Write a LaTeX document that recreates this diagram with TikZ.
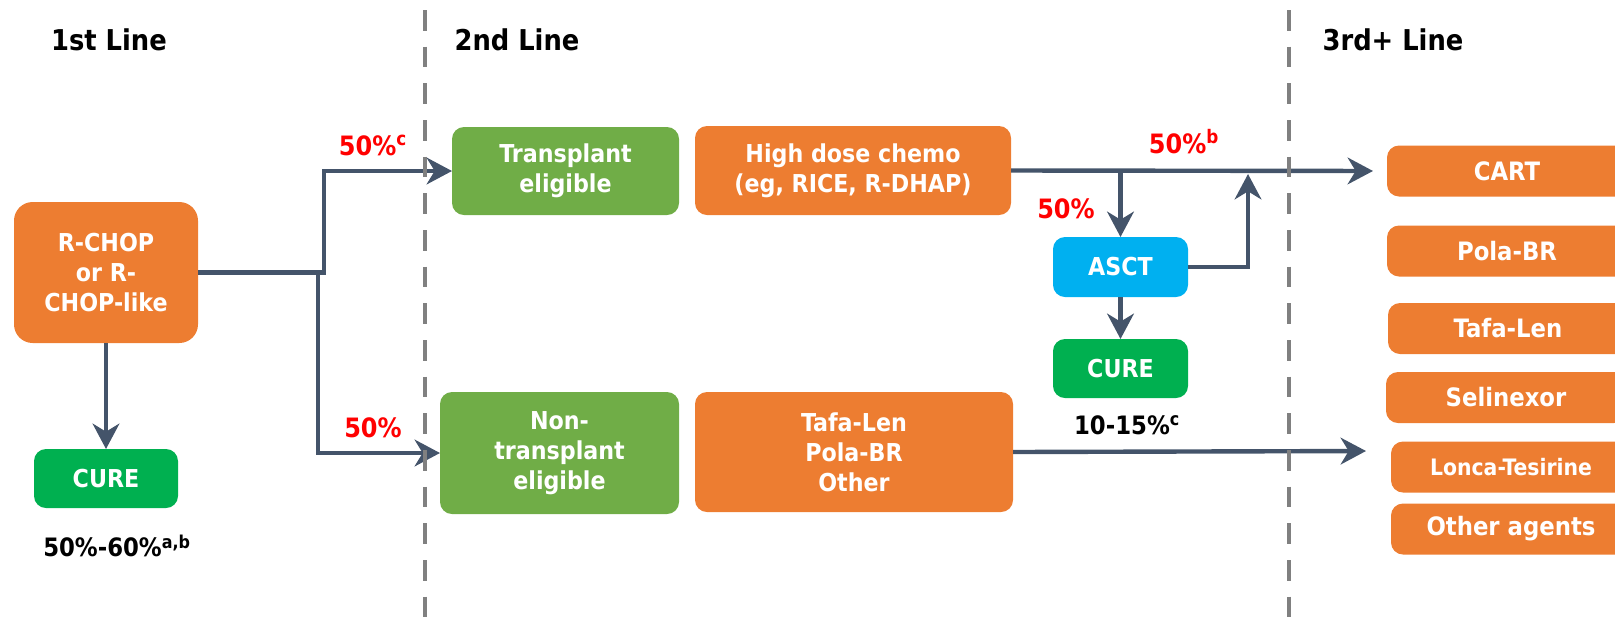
\documentclass[tikz,border=0pt]{standalone}
\usepackage{fontspec}
\setmainfont{DejaVu Sans Condensed}
\usetikzlibrary{arrows.meta}
\definecolor{orng}{HTML}{ED7D31}
\definecolor{lgreen}{HTML}{70AD47}
\definecolor{dgreen}{HTML}{00B050}
\definecolor{sky}{HTML}{00B0F0}
\definecolor{slate}{HTML}{44546A}
\definecolor{dashgray}{HTML}{808080}
\definecolor{redlbl}{HTML}{FF0000}
\begin{document}
\begin{tikzpicture}[x=0.75pt,y=-0.75pt,
  wh/.style 2 args={minimum width=#1*0.75pt, minimum height=#2*0.75pt},
  box/.style={rounded corners=9pt, text=white, align=center, inner sep=0pt, outer sep=0pt,
    font=\bfseries\fontsize{18.5}{22.5}\selectfont},
  sidebox/.style={box, fill=orng, wh={240}{51}, font=\bfseries\fontsize{19}{23}\selectfont},
  header/.style={font=\bfseries\fontsize{21.5}{25}\selectfont, text=black},
  redlab/.style={font=\bfseries\fontsize{20}{24}\selectfont, text=redlbl},
  blacklab/.style={font=\bfseries\fontsize{19}{23}\selectfont, text=black},
  conn/.style={draw=slate, line width=3.3pt, -{Stealth[length=19pt,width=20pt,inset=6pt]}},
  divider/.style={draw=dashgray, line width=3pt, dash pattern=on 15.5pt off 12pt}
]
\useasboundingbox (0,0) rectangle (1615,626);

% headers
\node[header] (h1) at (109,40) {1st Line};
\node[header] (h2) at (517,40) {2nd Line};
\node[header] (h3) at (1393,40) {3rd+ Line};

% first line
\node[box, fill=orng, wh={184}{141}, rounded corners=14pt] (rchop) at (106,272.5) {R-CHOP\\or R-\\CHOP-like};
\node[box, fill=dgreen, wh={144}{59}] (cure1) at (106,478.5) {CURE};
\node[blacklab] (p1) at (117,546) {50\%-60\%\textsuperscript{a,b}};

% second line
\node[box, fill=lgreen, wh={227}{88}] (tx) at (565.5,171) {Transplant\\eligible};
\node[box, fill=lgreen, wh={239}{122}] (ntx) at (559.5,453) {Non-\\transplant\\eligible};
\node[box, fill=orng, wh={316}{89}, font=\bfseries\fontsize{18.5}{22.5}\selectfont] (chemo) at (853,170.5) {High dose chemo\\(eg, RICE, R-DHAP)};
\node[box, fill=orng, wh={318}{120}] (tafamid) at (854,452) {Tafa-Len\\Pola-BR\\Other};
\node[box, fill=sky, wh={135}{60}] (asct) at (1120.5,267) {ASCT};
\node[box, fill=dgreen, wh={135}{59}] (cure2) at (1120.5,368.5) {CURE};
\node[blacklab] (p2) at (1127,425) {10-15\%\textsuperscript{c}};

% third line (clipped at right edge)
\begin{scope}
\clip (0,0) rectangle (1615,626);
\node[sidebox] (cart) at (1507,171) {CART};
\node[sidebox] (pola) at (1507,251) {Pola-BR};
\node[sidebox] (tafa) at (1508,328.5) {Tafa-Len};
\node[sidebox] (seli) at (1506,397.5) {Selinexor};
\node[sidebox, font=\bfseries\fontsize{17}{21}\selectfont] (lonca) at (1511,467) {Lonca-Tesirine};
\node[sidebox] (other) at (1511,529) {Other agents};
\end{scope}

% red labels
\node[redlab] (r1) at (373,145) {50\%\textsuperscript{c}};
\node[redlab] (r2) at (373,428) {50\%};
\node[redlab] (r3) at (1066,209) {50\%};
\node[redlab] (r4) at (1184,142) {50\%\textsuperscript{b}};

% connectors
\draw[conn] (rchop.east) -- ++(126,0) |- (tx.west);
\draw[conn] (rchop.east) -- ++(120,0) |- (ntx.west);
\draw[conn] (rchop.south) -- (cure1.north);
\draw[conn, shorten >=10.5pt] (chemo.east) -- (cart.west);
\draw[conn] (asct.north |- chemo.east) -- (asct.north);
\coordinate (rejoin) at (1248,174);
\draw[conn] (asct.east) -| (rejoin);
\draw[conn] (asct.south) -- (cure2.north);
\coordinate (lowtip) at (1366,451);
\draw[conn] (tafamid.east) -- (lowtip);

% dividers
\coordinate (d1top) at (425,10);
\coordinate (d1bot) at (425,626);
\coordinate (d2top) at (1289,10);
\coordinate (d2bot) at (1289,626);
\draw[divider] (d1top) -- (d1bot);
\draw[divider] (d2top) -- (d2bot);
\end{tikzpicture}
\end{document}
